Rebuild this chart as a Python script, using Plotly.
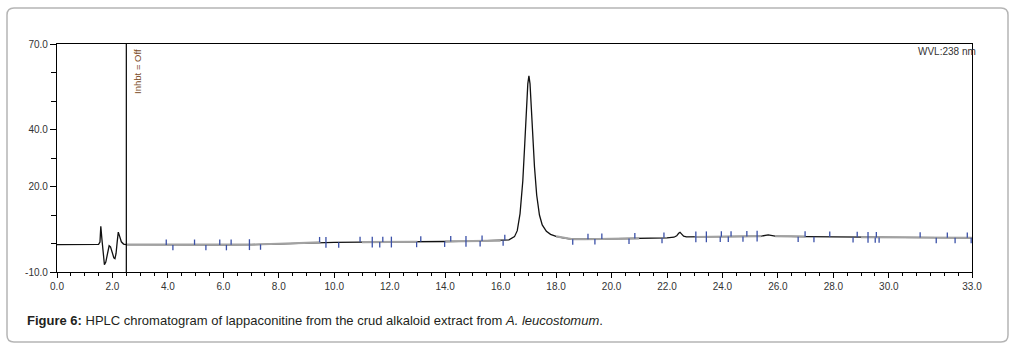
import numpy as np
import plotly.graph_objects as go

# ---------------- data ----------------
time_min = [0.0, 1.5, 1.55, 1.58, 1.62, 1.67, 1.71, 1.76, 1.83, 1.88, 1.93, 2.0, 2.05, 2.09,
            2.13, 2.17, 2.21, 2.26, 2.32, 2.4, 2.5, 3.0, 4.0, 5.0, 6.0, 7.0, 8.0, 9.0, 9.5,
            10.0, 11.0, 12.0, 13.0, 14.0, 15.0, 16.0, 16.3, 16.5, 16.6, 16.7, 16.8, 16.87,
            16.93, 16.98, 17.02, 17.06, 17.11, 17.16, 17.22, 17.3, 17.4, 17.5, 17.65, 17.8,
            18.0, 18.3, 18.6, 19.0, 20.0, 21.0, 22.0, 22.25, 22.35, 22.42, 22.47, 22.53,
            22.6, 22.7, 23.0, 24.0, 25.0, 25.4, 25.65, 25.9, 26.5, 27.0, 28.0, 29.0, 30.0,
            31.0, 32.0, 33.0]
signal_mau = [-0.4, -0.3, 0.5, 6.0, 1.5, -4.5, -7.4, -6.5, -2.5, -0.8, -1.2, -3.5, -5.0, -5.3,
              -3.5, 0.5, 4.0, 2.5, 0.6, -0.2, -0.4, -0.4, -0.5, -0.5, -0.5, -0.4, -0.1, 0.3, 0.4,
              0.4, 0.5, 0.5, 0.6, 0.7, 0.8, 1.0, 1.3, 2.4, 4.5, 10.5, 22.0, 35.0,
              48.0, 56.0, 58.8, 56.0, 47.0, 37.0, 27.0, 17.0, 10.0, 6.5, 4.3, 3.2,
              2.5, 1.9, 1.5, 1.5, 1.6, 1.8, 2.0, 2.2, 2.7, 3.6, 3.9, 3.3,
              2.6, 2.3, 2.3, 2.4, 2.5, 2.6, 3.0, 2.6, 2.4, 2.4, 2.3, 2.2, 2.1,
              2.1, 2.0, 2.0]

# software baseline ranges (drawn grey over the trace)
baseline_ranges = [(2.5, 9.5), (11.0, 13.0), (14.0, 16.0), (18.0, 21.0),
                   (23.0, 25.4), (25.9, 27.0), (29.0, 33.0)]

# integration delimiter marks: time and direction (u=up, d=down, b=both)
mark_times = [3.94, 4.18, 4.96, 5.37, 5.87, 6.11, 6.28, 6.94, 7.34, 9.47, 9.70, 10.16,
              10.93, 11.37, 11.64, 11.75, 12.06, 12.97, 13.12, 13.98, 14.20, 14.75, 15.26,
              15.33, 16.09, 16.15, 18.60, 19.15, 19.40, 19.65, 20.63, 20.84, 21.82, 21.89,
              23.04, 23.42, 23.92, 23.96, 24.21, 24.31, 24.74, 24.88, 25.25, 26.73, 26.98,
              27.30, 27.87, 28.71, 28.86, 29.25, 29.51, 29.55, 29.65, 31.13, 31.71, 32.11,
              32.39, 32.83, 32.97]
mark_dirs = ['u', 'd', 'u', 'd', 'u', 'd', 'u', 'b', 'd', 'u', 'b', 'd',
             'u', 'b', 'd', 'u', 'b', 'd', 'u', 'd', 'u', 'b', 'd',
             'u', 'd', 'u', 'd', 'u', 'd', 'u', 'd', 'u', 'd', 'u',
             'b', 'b', 'd', 'u', 'd', 'u', 'd', 'u', 'b', 'd', 'u',
             'd', 'u', 'd', 'u', 'b', 'd', 'u', 'd', 'u', 'd', 'u',
             'd', 'u', 'd']

inhibit_time = 2.5
x_tick_vals = [0, 2, 4, 6, 8, 10, 12, 14, 16, 18, 20, 22, 24, 26, 28, 30, 33]
x_tick_text = ["0.0", "2.0", "4.0", "6.0", "8.0", "10.0", "12.0", "14.0", "16.0", "18.0",
               "20.0", "22.0", "24.0", "26.0", "28.0", "30.0", "33.0"]
y_tick_vals = [-10, 20, 40, 70]
y_tick_text = ["-10.0", "20.0", "40.0", "70.0"]

# ---------------- figure ----------------
W, H = 1015, 351
ML, MR, MT, MB = 57, 43, 44, 79
PW, PH = W - ML - MR, H - MT - MB

t = np.array(time_min)
s = np.array(signal_mau)

fig = go.Figure()

# main trace
fig.add_trace(go.Scatter(x=t, y=s, mode="lines",
                         line=dict(color="#111111", width=1.3), hoverinfo="skip"))

# grey baseline overlay segments (subset of trace points)
bx, by = [], []
for a, b in baseline_ranges:
    m = (t >= a) & (t <= b)
    bx += list(t[m]) + [None]
    by += list(s[m]) + [None]
fig.add_trace(go.Scatter(x=bx, y=by, mode="lines",
                         line=dict(color="#a2a2a2", width=2.1), hoverinfo="skip"))

# delimiter marks
L = 1.9
mx, my = [], []
for tm, d in zip(mark_times, mark_dirs):
    b = float(np.interp(tm, t, s))
    lo = b - L if d in ("d", "b") else b
    hi = b + L if d in ("u", "b") else b
    mx += [tm, tm, None]
    my += [lo, hi, None]
fig.add_trace(go.Scatter(x=mx, y=my, mode="lines",
                         line=dict(color="#3a50a8", width=1.3), hoverinfo="skip"))

# inhibit line
fig.add_trace(go.Scatter(x=[inhibit_time, inhibit_time], y=[-10, 70], mode="lines",
                         line=dict(color="black", width=1.2), hoverinfo="skip"))

tickfont = dict(family="Liberation Sans, Arial, sans-serif", size=10, color="#333333")

fig.update_layout(
    width=W, height=H,
    margin=dict(l=ML, r=MR, t=MT, b=MB, pad=0),
    paper_bgcolor="white", plot_bgcolor="white",
    showlegend=False,
    xaxis=dict(range=[0, 33], showgrid=False, zeroline=False,
               showline=True, linecolor="black", linewidth=1.2, mirror=True,
               tickmode="array", tickvals=x_tick_vals, ticktext=x_tick_text,
               ticks="outside", ticklen=5, tickwidth=1.2, tickcolor="black",
               tickfont=tickfont,
               minor=dict(tickmode="array", tickvals=list(np.arange(0, 33.01, 0.5)),
                          ticks="outside", ticklen=3, tickwidth=1.2, tickcolor="black")),
    yaxis=dict(range=[-10, 70], showgrid=False, zeroline=False,
               showline=True, linecolor="black", linewidth=1.2, mirror=True,
               tickmode="array", tickvals=y_tick_vals, ticktext=y_tick_text,
               ticks="outside", ticklen=6, tickwidth=1.2, tickcolor="black",
               tickfont=tickfont,
               minor=dict(tickmode="array", tickvals=list(np.arange(-10, 70.01, 10)),
                          ticks="outside", ticklen=5, tickwidth=1.2, tickcolor="black")),
)

# annotations
fig.add_annotation(x=inhibit_time, y=60.5, xref="x", yref="y", text="Inhbt = Off",
                   textangle=-90, showarrow=False, xanchor="left", yanchor="middle",
                   xshift=3,
                   font=dict(family="Liberation Sans, Arial, sans-serif", size=9.5,
                             color="#7a4a1e"))
fig.add_annotation(x=(916 - ML) / PW, y=1.0, xref="paper", yref="paper", text="WVL:238 nm",
                   showarrow=False, xanchor="left", yanchor="top",
                   font=dict(family="Liberation Sans, Arial, sans-serif", size=10,
                             color="#333333"))
fig.add_annotation(x=(25 - ML) / PW, y=(H - MB - 320) / PH, xref="paper", yref="paper",
                   text="<b>Figure 6:</b> HPLC chromatogram of lappaconitine from the crud "
                        "alkaloid extract from <i>A. leucostomum</i>.",
                   showarrow=False, xanchor="left", yanchor="middle",
                   font=dict(family="Liberation Sans, Arial, sans-serif", size=13,
                             color="#231f20"))

# outer rounded frame
def px(xp):
    return (xp - ML) / PW

def py(yp):
    return (H - MB - yp) / PH

x0, y0, x1, y1, r = 7, 8, 1008, 342, 7
path = (f"M {px(x0 + r)} {py(y0)} L {px(x1 - r)} {py(y0)} "
        f"Q {px(x1)} {py(y0)} {px(x1)} {py(y0 + r)} L {px(x1)} {py(y1 - r)} "
        f"Q {px(x1)} {py(y1)} {px(x1 - r)} {py(y1)} L {px(x0 + r)} {py(y1)} "
        f"Q {px(x0)} {py(y1)} {px(x0)} {py(y1 - r)} L {px(x0)} {py(y0 + r)} "
        f"Q {px(x0)} {py(y0)} {px(x0 + r)} {py(y0)} Z")
fig.add_shape(type="path", path=path, xref="paper", yref="paper",
              line=dict(color="#b5b5b5", width=1.5), layer="below")

fig.write_html("out.html")
